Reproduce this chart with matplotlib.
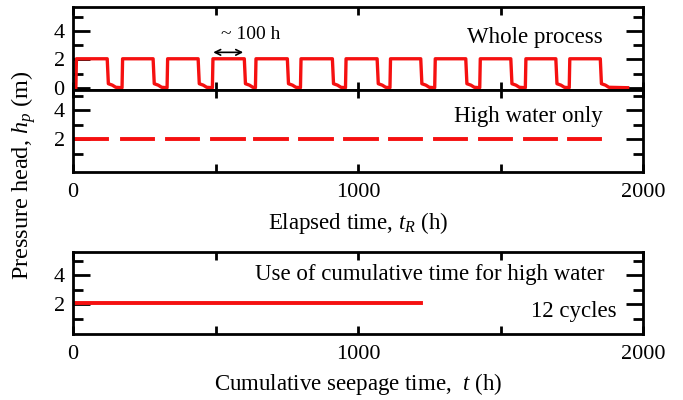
import matplotlib
matplotlib.use("Agg")
import matplotlib.pyplot as plt
from matplotlib.ticker import MultipleLocator, FixedLocator

plt.rcParams['font.family'] = ['Liberation Serif', 'DejaVu Serif']
plt.rcParams['mathtext.fontset'] = 'custom'
plt.rcParams['mathtext.rm'] = 'Liberation Serif'
plt.rcParams['mathtext.it'] = 'Liberation Serif:italic'

# data
rise_t = [10, 172, 330, 489, 640, 798, 956, 1112, 1269, 1427, 1587, 1741]
fall_t = [120, 281, 439, 601, 752, 910, 1067, 1220, 1378, 1536, 1694, 1850]
end_t = 1946
high_head = 2.05
drain_dt = [4, 18, 30]
drain_head = [0.3, 0.2, 0.05]
low_head = 0.02
cum_t = [0, 1220]
cum_head = [2.05, 2.05]

# whole process curve
t_all = []
h_all = []
for i in range(len(rise_t)):
    t_all += [rise_t[i], rise_t[i] + 2, fall_t[i]]
    h_all += [low_head, high_head, high_head]
    for dt, h in zip(drain_dt, drain_head):
        t_all.append(fall_t[i] + dt)
        h_all.append(h)
    nxt = rise_t[i + 1] if i + 1 < len(rise_t) else end_t
    t_all.append(nxt)
    h_all.append(low_head)

fig = plt.figure(figsize=(6.83, 4.0), dpi=100)
ax1 = fig.add_axes([0.1069, 0.775, 0.8346, 0.2075])
ax2 = fig.add_axes([0.1069, 0.57, 0.8346, 0.205])
ax3 = fig.add_axes([0.1069, 0.165, 0.8346, 0.205])

red = '#f51010'
ax1.plot(t_all, h_all, color=red, lw=2.4)
for r, f in zip(rise_t, fall_t):
    ax2.plot([r, f], [2.0, 2.0], color=red, lw=2.8)
ax3.plot(cum_t, cum_head, color=red, lw=2.8)

ax1.set_ylim(-0.14, 5.68)
ax2.set_ylim(-0.25, 5.4)
ax3.set_ylim(-0.07, 5.6)

for ax in (ax1, ax2, ax3):
    ax.set_xlim(0, 2000)
    ax.xaxis.set_major_locator(MultipleLocator(500))
    ax.yaxis.set_minor_locator(FixedLocator([1, 3, 5]))
    ax.tick_params(axis='both', which='both', direction='in', top=True, right=True,
                   width=2, labelsize=16)
    ax.tick_params(axis='y', which='major', length=12, pad=6)
    ax.tick_params(axis='y', which='minor', length=7)
    ax.tick_params(axis='x', which='major', length=6, pad=8)
    for s in ax.spines.values():
        s.set_linewidth(2)

ax1.yaxis.set_major_locator(FixedLocator([0, 2, 4]))
ax2.yaxis.set_major_locator(FixedLocator([2, 4]))
ax3.yaxis.set_major_locator(FixedLocator([2, 4]))
ax1.set_xticklabels([])
for ax in (ax2, ax3):
    ax.xaxis.set_major_formatter(plt.FuncFormatter(lambda v, p: '%d' % v if v % 1000 == 0 else ''))

ax1.text(0.93, 0.63, 'Whole process', transform=ax1.transAxes, ha='right', va='center', fontsize=16.5)
ax1.annotate('', xy=(492, 2.5), xytext=(597, 2.5),
             arrowprops=dict(arrowstyle='<->', color='black', lw=1.2, shrinkA=0, shrinkB=0))
ax1.text(622, 3.75, '~ 100 h', ha='center', va='center', fontsize=14)
ax2.text(0.93, 0.68, 'High water only', transform=ax2.transAxes, ha='right', va='center', fontsize=16.5)
ax3.text(0.932, 0.72, 'Use of cumulative time for high water', transform=ax3.transAxes,
         ha='right', va='center', fontsize=16.5)
ax3.text(0.953, 0.27, '12 cycles', transform=ax3.transAxes, ha='right', va='center', fontsize=16.5)

ax2.set_xlabel('Elapsed time, $t_R$ (h)', fontsize=16.5, labelpad=6)
ax3.set_xlabel('Cumulative seepage time,  $t$ (h)', fontsize=16.5, labelpad=5)
fig.text(0.035, 0.5625, 'Pressure head, $h_p$ (m)', rotation=90, ha='center', va='center', fontsize=17.5)

fig.savefig('out.png', dpi=100)
